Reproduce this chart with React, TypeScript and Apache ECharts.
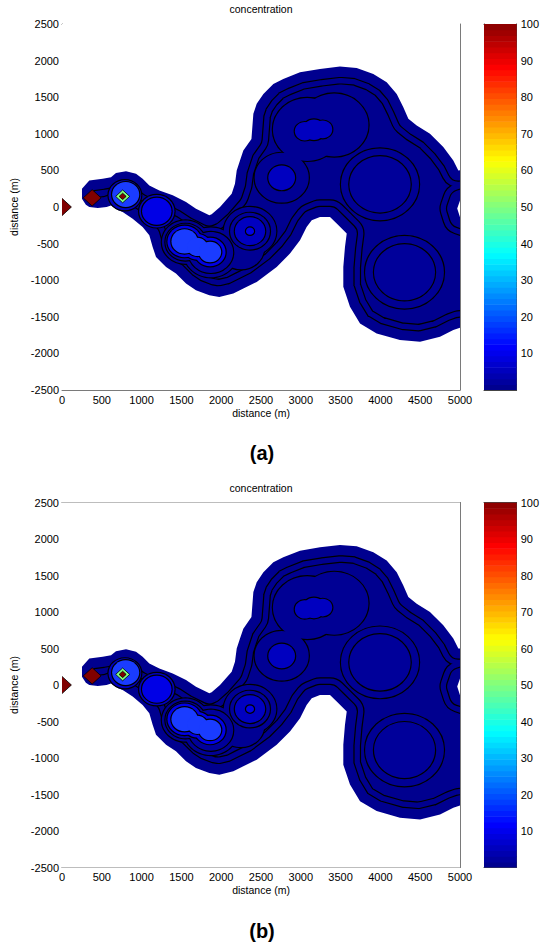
import React, { useEffect, useRef } from "react";
import * as echarts from "echarts";

// Axis ranges (m) and colour scale
const X_MIN = 0;
const X_MAX = 5000;
const Y_MIN = -2500;
const Y_MAX = 2500;
const TICK_STEP = 500;
const C_MIN = 0;
const C_MAX = 100;
const C_STEP = 10;
const COLORMAP_SIZE = 64;

// Outermost contour of the plume (m), traced along the lower edge, round the
// right-hand lobes and back along the upper edge
const envX = [251, 251, 300, 343, 450, 560, 616, 700, 762, 888, 1013, 1097, 1139, 1181, 1307, 1432, 1558, 1683, 1851, 1976, 2152, 2278, 2446, 2697, 2864, 2990, 3073, 3137, 3241, 3367, 3451, 3577, 3555, 3534, 3534, 3618, 3744, 3953, 4246, 4498, 4749, 4916, 5000, 5300, 5300, 5000, 4965, 5000, 5300, 5300, 4979, 4916, 4790, 4623, 4456, 4351, 4288, 4205, 4079, 3911, 3702, 3492, 3241, 2990, 2780, 2655, 2530, 2446, 2404, 2380, 2278, 2236, 2195, 2173, 2132, 1985, 1880, 1851, 1683, 1558, 1391, 1223, 1097, 1013, 930, 804, 678, 616, 511, 343];
const envY = [250, 114, 30, 0, -15, 0, 22, -40, -70, -159, -273, -387, -546, -682, -819, -909, -1045, -1136, -1205, -1228, -1182, -1113, -1023, -819, -636, -455, -273, -182, -137, -137, -227, -363, -546, -819, -1091, -1364, -1591, -1727, -1818, -1841, -1773, -1682, -1650, -1650, -250, -140, -20, 90, 200, 520, 500, 636, 818, 1000, 1113, 1205, 1363, 1545, 1704, 1818, 1900, 1918, 1886, 1840, 1750, 1682, 1545, 1409, 1273, 930, 772, 636, 500, 318, 182, 0, -100, -114, -23, 68, 159, 227, 295, 387, 455, 490, 463, 408, 387, 363];
// Depth (m) of the contour lines that run parallel to the outer edge
const envLineDepths = [225, 140];

// Inner contour levels around the puff centres: centre (m) and radius (m)
const ringX = [
  [1550, 1870, 2250, 2362, 2760, 3080, 3420, 3995, 4303],
  [1550, 1870, 2362, 3995, 4303],
  [790, 1191, 2362, 2760, 3050, 3165, 3275],
  [1191, 1540, 1700, 1860, 2362],
  [800, 1540, 1700, 1860],
];
const ringY = [
  [-480, -620, -560, -330, 400, 1060, 1120, 310, -891],
  [-480, -620, -330, 310, -891],
  [160, -57, -330, 398, 1035, 1055, 1060],
  [-57, -470, -545, -615, -330],
  [170, -470, -545, -615],
];
const ringR = [
  [295, 340, 290, 330, 340, 430, 430, 490, 495],
  [250, 280, 250, 385, 383],
  [205, 222, 190, 168, 125, 140, 120],
  [185, 215, 175, 195, 50],
  [170, 165, 125, 140],
];
const envColor = "#00008f";
const ringColors = ["#000094", "#00009a", "#0000c0", "#0000e6", "#1a3cff"];

// Grid-cell peaks near the sources: centre (m), half diagonal (m), fill
const peakX = [0, 379, 762, 762];
const peakY = [0, 125, 145, 145];
const peakHalf = [118, 112, 88, 44];
const peakColors = ["#800000", "#800000", "#80ff80", "#800000"];

const FONT = "'Liberation Sans', Arial, Helvetica, sans-serif";
const AXIS_GRAY = "#7a7a7a";
const LINE_W = 1.2;

// MATLAB-style jet colour map entry
function jet(i: number): string {
  const t = (i + 1) / (COLORMAP_SIZE + 1);
  const clamp = (v: number) => Math.max(0, Math.min(1, v));
  const r = clamp(1.5 - Math.abs(4 * t - 3));
  const g = clamp(1.5 - Math.abs(4 * t - 2));
  const b = clamp(1.5 - Math.abs(4 * t - 1));
  const h = (v: number) => Math.round(v * 255).toString(16).padStart(2, "0");
  return "#" + h(r) + h(g) + h(b);
}

function renderEnvelope(params: any, api: any) {
  const pts: number[][] = envX.map((x, i) => api.coord([x, envY[i]]));
  const unit = api.size([1, 1]);
  const pxPerM = (unit[0] + unit[1]) / 2;
  const children: any[] = [];
  children.push({ type: "polygon", z2: 0, shape: { points: pts }, style: { fill: envColor } });
  envLineDepths.forEach((d, k) => {
    const w = 2 * d * pxPerM;
    children.push({
      type: "polygon", z2: 1 + k * 2, shape: { points: pts },
      style: { fill: "none", stroke: "#000", lineWidth: w + LINE_W, lineJoin: "round" },
    });
    children.push({
      type: "polygon", z2: 2 + k * 2, shape: { points: pts },
      style: { fill: "none", stroke: envColor, lineWidth: w - LINE_W, lineJoin: "round" },
    });
  });
  // white cover outside the outer contour
  const cs = params.coordSys;
  const x0 = cs.x - 60, y0 = cs.y - 60, x1 = cs.x + cs.width + 60, y1 = cs.y + cs.height + 60;
  let area = 0;
  pts.forEach((p, i) => {
    const q = pts[(i + 1) % pts.length];
    area += p[0] * q[1] - q[0] * p[1];
  });
  const hole = area > 0 ? pts.slice().reverse() : pts;
  const d =
    `M${x0} ${y0}L${x1} ${y0}L${x1} ${y1}L${x0} ${y1}Z` +
    "M" + hole.map((p) => `${p[0].toFixed(2)} ${p[1].toFixed(2)}`).join("L") + "Z";
  children.push({ type: "path", z2: 10, shape: { pathData: d }, style: { fill: "#fff" } });
  return { type: "group", children };
}

function renderRings(params: any, api: any) {
  const lv = api.value(0) as number;
  const color = ringColors[lv];
  const shapes = ringX[lv].map((x, i) => {
    const c = api.coord([x, ringY[lv][i]]);
    const s = api.size([ringR[lv][i], ringR[lv][i]]);
    return { cx: c[0], cy: c[1], rx: s[0], ry: s[1] };
  });
  const children: any[] = [];
  shapes.forEach((shape) =>
    children.push({ type: "ellipse", shape, z2: 20 + lv * 2, style: { fill: color, stroke: "#000", lineWidth: 2 * LINE_W } })
  );
  shapes.forEach((shape) =>
    children.push({ type: "ellipse", shape, z2: 21 + lv * 2, style: { fill: color } })
  );
  return { type: "group", children };
}

function renderPeak(params: any, api: any) {
  const x = api.value(0);
  const y = api.value(1);
  const h = api.value(2);
  const pts = [
    [x - h, y],
    [x, y + h],
    [x + h, y],
    [x, y - h],
  ].map((p) => api.coord(p));
  return {
    type: "polygon",
    z2: 100 + params.dataIndex,
    shape: { points: pts },
    style: { fill: peakColors[params.dataIndex], stroke: "#000", lineWidth: 0.8 },
  };
}

function renderBand(params: any, api: any) {
  const i = api.value(0);
  const step = (C_MAX - C_MIN) / COLORMAP_SIZE;
  const lo = api.coord([0, C_MIN + i * step]);
  const hi = api.coord([1, C_MIN + (i + 1) * step]);
  return {
    type: "rect",
    shape: { x: lo[0], y: hi[1], width: hi[0] - lo[0], height: lo[1] - hi[1] + 0.6 },
    style: { fill: jet(i) },
  };
}

const panels = [
  { top: 24, height: 366, title: "(a)", titleY: 9, labelY: 453 },
  { top: 502.5, height: 365, title: "(b)", titleY: 488, labelY: 931 },
];
const PLOT_LEFT = 62;
const PLOT_WIDTH = 398;
const BAR_LEFT = 484;
const BAR_WIDTH = 34;

function buildOption() {
  const grid: any[] = [];
  const xAxis: any[] = [];
  const yAxis: any[] = [];
  const series: any[] = [];
  const graphic: any[] = [];
  const labelStyle = { color: "#000", fontSize: 11, fontFamily: FONT };
  const lineStyle = { color: AXIS_GRAY, width: 1 };

  panels.forEach((p, k) => {
    const g = k * 2;
    grid.push({ left: PLOT_LEFT, top: p.top, width: PLOT_WIDTH, height: p.height });
    grid.push({ left: BAR_LEFT, top: p.top, width: BAR_WIDTH, height: p.height });

    const xa = xAxis.length;
    xAxis.push({
      type: "value", gridIndex: g, min: X_MIN, max: X_MAX, interval: TICK_STEP, position: "bottom",
      name: "distance (m)", nameLocation: "middle", nameGap: 17,
      nameTextStyle: { color: "#000", fontSize: 10.5, fontFamily: FONT },
      axisLine: { show: true, onZero: false, lineStyle },
      axisTick: { show: true, inside: true, length: 4, lineStyle },
      axisLabel: { ...labelStyle, margin: 4, formatter: (v: number) => String(v) },
      splitLine: { show: false },
    });
    xAxis.push({
      type: "value", gridIndex: g, min: X_MIN, max: X_MAX, interval: TICK_STEP, position: "top",
      axisLine: { show: true, onZero: false, lineStyle },
      axisTick: { show: true, inside: true, length: 4, lineStyle },
      axisLabel: { show: false }, splitLine: { show: false },
    });
    const ya = yAxis.length;
    yAxis.push({
      type: "value", gridIndex: g, min: Y_MIN, max: Y_MAX, interval: TICK_STEP, position: "left",
      name: "distance (m)", nameLocation: "middle", nameGap: 29, nameRotate: 90,
      nameTextStyle: { color: "#000", fontSize: 10.5, fontFamily: FONT },
      axisLine: { show: true, onZero: false, lineStyle },
      axisTick: { show: true, inside: true, length: 4, lineStyle },
      axisLabel: { ...labelStyle, margin: 3, formatter: (v: number) => String(v) },
      splitLine: { show: false },
    });
    yAxis.push({
      type: "value", gridIndex: g, min: Y_MIN, max: Y_MAX, interval: TICK_STEP, position: "right",
      axisLine: { show: true, onZero: false, lineStyle },
      axisTick: { show: true, inside: true, length: 4, lineStyle },
      axisLabel: { show: false }, splitLine: { show: false },
    });

    // colour bar axes
    const bx = xAxis.length;
    xAxis.push({
      type: "value", gridIndex: g + 1, min: 0, max: 1, position: "bottom",
      axisLine: { show: true, onZero: false, lineStyle: { color: "#444" } },
      axisTick: { show: false }, axisLabel: { show: false }, splitLine: { show: false },
    });
    xAxis.push({
      type: "value", gridIndex: g + 1, min: 0, max: 1, position: "top",
      axisLine: { show: true, onZero: false, lineStyle: { color: "#444" } },
      axisTick: { show: false }, axisLabel: { show: false }, splitLine: { show: false },
    });
    const by = yAxis.length;
    yAxis.push({
      type: "value", gridIndex: g + 1, min: C_MIN, max: C_MAX, interval: C_STEP, position: "right",
      axisLine: { show: true, onZero: false, lineStyle: { color: "#444" } },
      axisTick: { show: true, inside: true, length: 3, lineStyle: { color: "#444" } },
      axisLabel: { ...labelStyle, margin: 4, formatter: (v: number) => (v === C_MIN ? "" : String(v)) },
      splitLine: { show: false },
    });
    yAxis.push({
      type: "value", gridIndex: g + 1, min: C_MIN, max: C_MAX, interval: C_STEP, position: "left",
      axisLine: { show: true, onZero: false, lineStyle: { color: "#444" } },
      axisTick: { show: true, inside: true, length: 3, lineStyle: { color: "#444" } },
      axisLabel: { show: false }, splitLine: { show: false },
    });

    series.push({
      type: "custom", xAxisIndex: xa, yAxisIndex: ya, clip: true, silent: true,
      renderItem: renderEnvelope,
      data: [[envX[0], envY[0]]],
    });
    series.push({
      type: "custom", xAxisIndex: xa, yAxisIndex: ya, clip: true, silent: true, z: 3,
      renderItem: renderRings,
      data: ringColors.map((_, lv) => [lv, 0]),
    });
    series.push({
      type: "custom", xAxisIndex: xa, yAxisIndex: ya, clip: true, silent: true, z: 4,
      renderItem: renderPeak,
      data: peakX.map((x, i) => [x, peakY[i], peakHalf[i]]),
    });
    series.push({
      type: "custom", xAxisIndex: bx, yAxisIndex: by, clip: true, silent: true,
      renderItem: renderBand,
      data: Array.from({ length: COLORMAP_SIZE }, (_, i) => [i, 0]),
    });

    graphic.push({
      type: "text", x: PLOT_LEFT + PLOT_WIDTH / 2, y: p.titleY,
      style: { text: "concentration", font: `10.5px ${FONT}`, fill: "#000", textAlign: "center", textVerticalAlign: "middle" },
    });
    graphic.push({
      type: "text", x: PLOT_LEFT + PLOT_WIDTH / 2 + 1, y: p.labelY,
      style: { text: p.title, font: `bold 20px ${FONT}`, fill: "#000", textAlign: "center", textVerticalAlign: "middle" },
    });
  });

  return { animation: false, backgroundColor: "#fff", grid, xAxis, yAxis, series, graphic };
}

export default function App() {
  const ref = useRef<HTMLDivElement>(null);
  useEffect(() => {
    if (!ref.current) return;
    const chart = echarts.init(ref.current, undefined, { renderer: "svg" });
    chart.setOption(buildOption());
    return () => chart.dispose();
  }, []);
  return <div ref={ref} style={{ position: "absolute", left: 0, top: 0, width: 542, height: 945 }} />;
}
